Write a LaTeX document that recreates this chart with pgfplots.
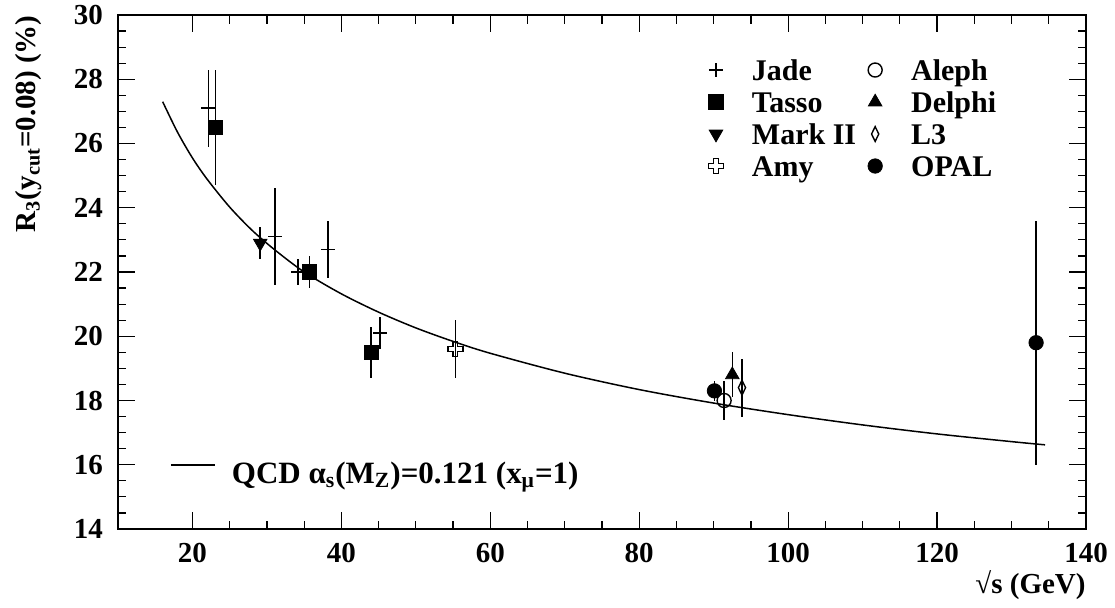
\documentclass[border=0pt]{standalone}
\usepackage{fontspec}
\setmainfont{Liberation Serif}
\usepackage{pgfplots}
\pgfplotsset{compat=1.18}
\pgfdeclareplotmark{ocross}{%
  \pgfpathmoveto{\pgfqpoint{-0.33\pgfplotmarksize}{\pgfplotmarksize}}%
  \pgfpathlineto{\pgfqpoint{0.33\pgfplotmarksize}{\pgfplotmarksize}}%
  \pgfpathlineto{\pgfqpoint{0.33\pgfplotmarksize}{0.33\pgfplotmarksize}}%
  \pgfpathlineto{\pgfqpoint{\pgfplotmarksize}{0.33\pgfplotmarksize}}%
  \pgfpathlineto{\pgfqpoint{\pgfplotmarksize}{-0.33\pgfplotmarksize}}%
  \pgfpathlineto{\pgfqpoint{0.33\pgfplotmarksize}{-0.33\pgfplotmarksize}}%
  \pgfpathlineto{\pgfqpoint{0.33\pgfplotmarksize}{-\pgfplotmarksize}}%
  \pgfpathlineto{\pgfqpoint{-0.33\pgfplotmarksize}{-\pgfplotmarksize}}%
  \pgfpathlineto{\pgfqpoint{-0.33\pgfplotmarksize}{-0.33\pgfplotmarksize}}%
  \pgfpathlineto{\pgfqpoint{-\pgfplotmarksize}{-0.33\pgfplotmarksize}}%
  \pgfpathlineto{\pgfqpoint{-\pgfplotmarksize}{0.33\pgfplotmarksize}}%
  \pgfpathlineto{\pgfqpoint{-0.33\pgfplotmarksize}{0.33\pgfplotmarksize}}%
  \pgfpathclose\pgfusepathqstroke}
\begin{document}
\begin{tikzpicture}
\path[use as bounding box] (-59pt,-39pt) rectangle (498.5pt,264.5pt);
\begin{axis}[
  at={(0pt,0pt)}, anchor=south west,
  scale only axis, width=484pt, height=257pt,
  xmin=10, xmax=140, ymin=14, ymax=30,
  xtick={20,40,...,140}, ytick={14,16,...,30},
  minor x tick num=3, minor y tick num=3,
  tick align=inside,
  major tick length=8.5pt, minor tick length=4.25pt,
  axis line style={line width=1pt},
  every tick/.style={black, line width=0.6pt},
  /pgf/number format/assume math mode=true,
  ticklabel style={font=\bfseries\fontsize{14.5}{16}\selectfont},
  xticklabel style={yshift=-3.5pt},
  yticklabel style={xshift=-4pt},
  xlabel={√s (GeV)},
  xlabel style={at={(axis description cs:1.0,-0.0798)}, anchor=north east, inner sep=0pt, font=\bfseries\fontsize{14.5}{16}\selectfont},
  ylabel={R\textsubscript{3}(y\textsubscript{cut}=0.08) (\%)},
  ylabel style={at={(axis description cs:-0.0785,1)}, anchor=south east, inner sep=0pt, font=\bfseries\fontsize{14.5}{16}\selectfont},
  legend columns=2,
  legend cell align=left,
  legend style={draw=none, fill=none, inner sep=0pt, outer sep=0pt,
    at={(axis description cs:0.6033,0.9163)}, anchor=north west,
    font=\bfseries\fontsize{15}{16}\selectfont,
    column sep=0pt,
    nodes={inner sep=0pt, text height=11pt, text depth=5pt},
    /tikz/every even column/.append style={column sep=2.5pt}},
  legend image code/.code={%
    \path[draw=none, fill=none, use as bounding box] (-7pt,-8pt) rectangle (18pt,8pt);
    \draw[mark repeat=1,#1] plot coordinates {(0pt,2pt)};},
  error bars/error bar style={line width=0.8pt},
]
\addplot[black, line width=0.75pt, smooth, forget plot] coordinates {
 (16,27.3) (18,26.35) (20,25.55) (22,24.88) (25,24.02) (28,23.3) (31,22.7)
 (35,22.0) (40,21.32) (45,20.75) (50,20.26) (55,19.84) (60,19.47) (70,18.85)
 (80,18.34) (90,17.92) (100,17.56) (110,17.24) (120,16.96) (130,16.72) (134.5,16.62)};
% Jade
\addplot[black, only marks, mark=+, mark size=3.5pt, mark options={line width=0.8pt},
  error bars/.cd, y dir=both, y explicit, error mark=none]
  table[x=x, y=y, y error=e] {
  x y e
  22.15 27.1 1.2
  31.1 23.1 1.5
  34.2 22.0 0.4
  38.2 22.7 0.9
  45.2 20.1 0.5
};
\addlegendentry{Jade}
% Aleph
\addplot[black, only marks, mark=o, mark size=3.5pt, mark options={line width=0.7pt},
  error bars/.cd, y dir=both, y explicit, error mark=none]
  table[x=x, y=y, y error=e] {
  x y e
  91.4 18.0 0.6
};
\addlegendentry{Aleph}
% Tasso
\addplot[black, only marks, mark=square*, mark size=3.6pt,
  error bars/.cd, y dir=both, y explicit, error mark=none]
  table[x=x, y=y, y error=e] {
  x y e
  23.1 26.5 1.8
  35.7 22.0 0.5
  44.0 19.5 0.8
};
\addlegendentry{Tasso}
% Delphi
\addplot[black, only marks, mark=triangle*, mark size=3.9pt,
  error bars/.cd, y dir=both, y explicit, error mark=none]
  table[x=x, y=y, y error=e] {
  x y e
  92.5 18.8 0.7
};
\addlegendentry{Delphi}
% Mark II
\addplot[black, only marks, mark=triangle*, mark size=3.9pt, mark options={rotate=180},
  error bars/.cd, y dir=both, y explicit, error mark=none]
  table[x=x, y=y, y error=e] {
  x y e
  29.1 22.9 0.5
};
\addlegendentry{Mark II}
% L3
\addplot[black, only marks, mark=diamond, mark size=3.7pt, mark options={xscale=0.65, line width=0.7pt},
  error bars/.cd, y dir=both, y explicit, error mark=none]
  table[x=x, y=y, y error=e] {
  x y e
  93.8 18.4 0.9
};
\addlegendentry{L3}
% Amy
\addplot[black, only marks, mark=ocross, mark size=3.75pt, mark options={line width=0.7pt},
  error bars/.cd, y dir=both, y explicit, error mark=none]
  table[x=x, y=y, y error=e] {
  x y e
  55.3 19.6 0.9
};
\addlegendentry{Amy}
% OPAL
\addplot[black, only marks, mark=*, mark size=3.6pt,
  error bars/.cd, y dir=both, y explicit, error mark=none]
  table[x=x, y=y, y error=e] {
  x y e
  90.1 18.3 0.3
  133.3 19.8 3.8
};
\addlegendentry{OPAL}
\end{axis}
\begin{axis}[
  at={(0pt,0pt)}, anchor=south west,
  scale only axis, width=484pt, height=257pt,
  xmin=10, xmax=140, ymin=14, ymax=30,
  hide axis,
  legend cell align=left,
  legend style={draw=none, fill=none, inner sep=0pt, outer sep=0pt,
    at={(axis description cs:0.05475,0.1323)}, anchor=north west,
    font=\bfseries\fontsize{15.5}{16}\selectfont,
    column sep=0pt,
    nodes={inner sep=0pt, text height=11pt, text depth=5pt}},
  legend image code/.code={%
    \path[draw=none, fill=none, use as bounding box] (0pt,-8pt) rectangle (30.5pt,8pt);
    \draw[#1] (0pt,6pt) -- (22pt,6pt);},
]
\addlegendimage{black, line width=0.75pt}
\addlegendentry{QCD α\textsubscript{s}(M\textsubscript{Z})=0.121 (x\textsubscript{μ}=1)}
\end{axis}
\end{tikzpicture}
\end{document}
